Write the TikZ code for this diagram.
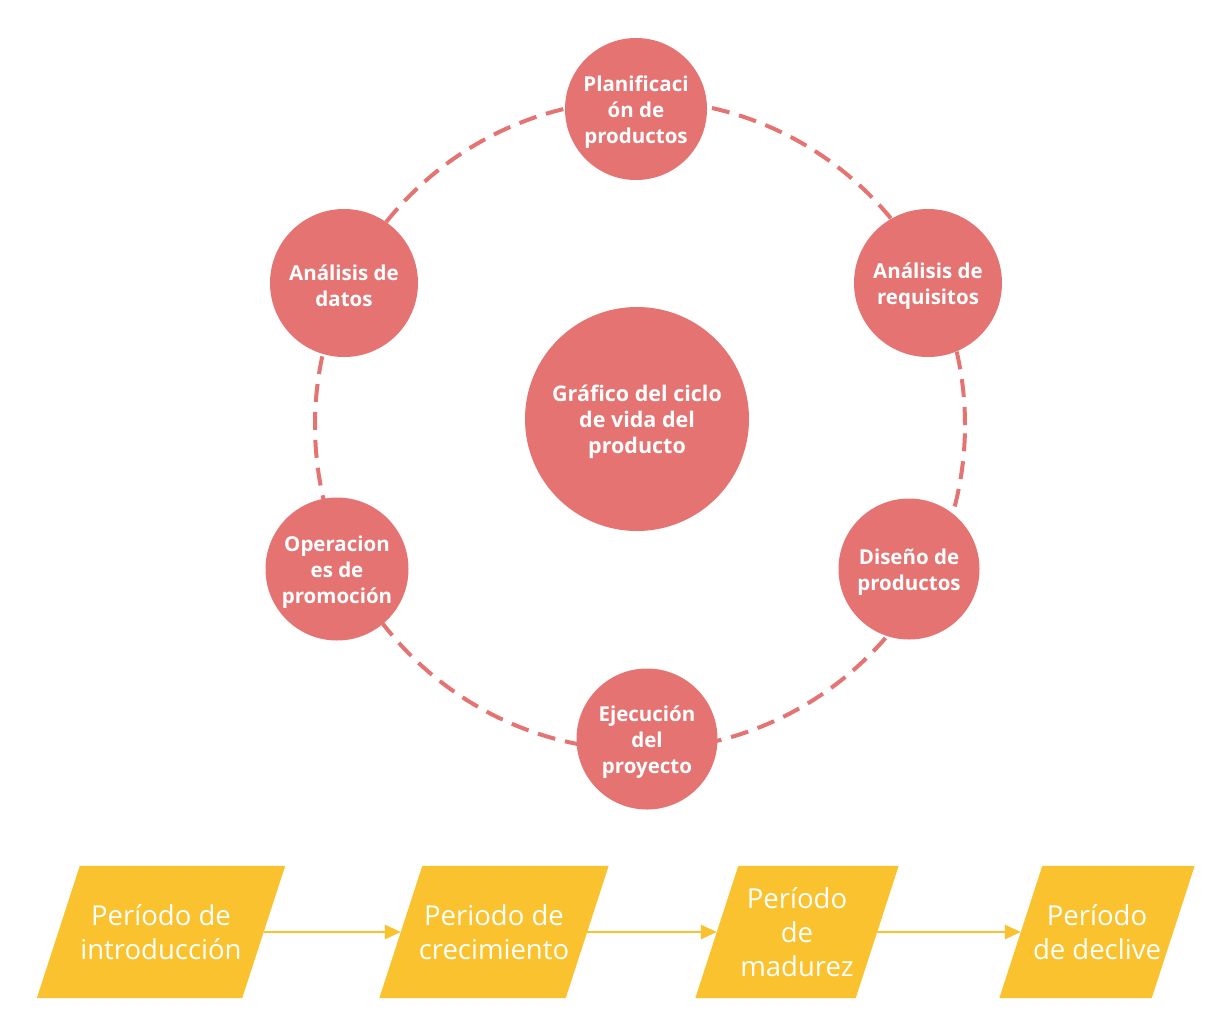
\documentclass[tikz,border=0pt]{standalone}
\usepackage{fontspec}
\setmainfont{Open Sans}
\usetikzlibrary{calc,arrows.meta}
\definecolor{rosa}{RGB}{229,115,114}
\definecolor{amarillo}{RGB}{249,194,46}
\newcommand{\liftline}{\rule{0pt}{22pt}}
\begin{document}
\begin{tikzpicture}[x=1pt,y=-1pt,
  stage/.style={circle,fill=rosa,draw=none,inner sep=0pt,text=white,
    font=\bfseries\fontsize{20.5}{26}\selectfont,align=center},
  ring/.style={draw=rosa,line width=4pt,dash pattern=on 18pt off 10pt},
  para/.style={rectangle,minimum height=132pt,draw=none,inner sep=0pt},
  ptext/.style={text=white,font=\fontsize{27.5}{34}\selectfont,align=center,inner sep=0pt},
  flow/.style={draw=amarillo,line width=2.8pt,-{Triangle[length=16pt,width=14pt]}}
]
\useasboundingbox (0,0) rectangle (1226,1034);
\coordinate (ringc) at (640,425);
\draw[ring] (ringc) circle[radius=325pt];
% central circle
\node[stage,minimum size=224pt,font=\bfseries\fontsize{21.5}{26}\selectfont] (center) at (637,419) {\liftline Gráfico del ciclo\\de vida del\\producto};
% stages
\node[stage,minimum size=142pt] (plan) at (636,109) {\liftline Planificaci\\ón de\\productos};
\node[stage,minimum size=148pt] (req) at (928,283) {\liftline Análisis de\\requisitos};
\node[stage,minimum size=141pt] (dis) at (909,569) {\liftline Diseño de\\productos};
\node[stage,minimum size=141pt] (eje) at (647,739) {\liftline Ejecución\\del\\proyecto};
\node[stage,minimum size=143pt] (ope) at (337,569) {\liftline Operacion\\es de\\promoción};
\node[stage,minimum size=148pt] (dat) at (344,283) {\liftline Análisis de\\datos};
% periods
\node[para,minimum width=205pt] (p1) at (161,932) {};
\node[para,minimum width=186pt] (p2) at (494,932) {};
\node[para,minimum width=160pt] (p3) at (797,932) {};
\node[para,minimum width=152pt] (p4) at (1097,932) {};
\foreach \p in {p1,p2,p3,p4}{
  \fill[amarillo] ($(\p.south west)+(-21.5,0)$) -- ($(\p.south east)+(-21.5,0)$)
    -- ($(\p.north east)+(21.5,0)$) -- ($(\p.north west)+(21.5,0)$) -- cycle;
}
\node[ptext] (t1) at (p1.center) {Período de\\introducción};
\node[ptext] (t2) at (p2.center) {Periodo de\\crecimiento};
\node[ptext] (t3) at (p3.center) {Período\\de\\madurez};
\node[ptext] (t4) at (p4.center) {Período\\de declive};
\draw[flow] (p1.east) -- (p2.west);
\draw[flow] (p2.east) -- (p3.west);
\draw[flow] (p3.east) -- (p4.west);
\end{tikzpicture}
\end{document}
